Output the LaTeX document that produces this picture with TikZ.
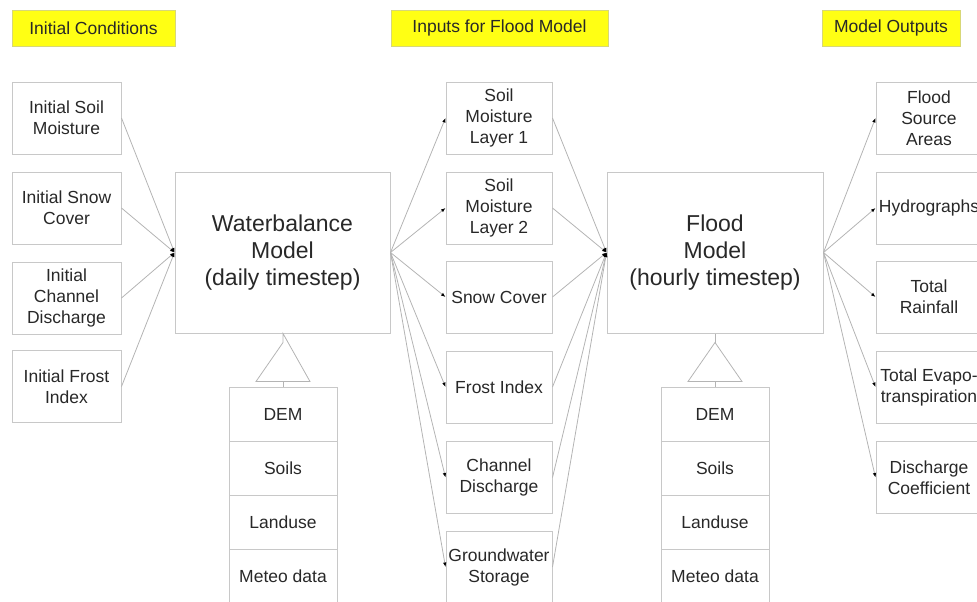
\documentclass[tikz,border=0pt]{standalone}
\usepackage{fontspec}
\setmainfont{Liberation Sans}
\usetikzlibrary{arrows.meta,calc}
\definecolor{boxline}{RGB}{200,200,200}
\definecolor{wire}{RGB}{180,180,180}
\definecolor{ink}{RGB}{40,40,40}
\definecolor{tagfill}{RGB}{255,255,20}
\definecolor{tagline}{RGB}{215,215,120}
\begin{document}
\begin{tikzpicture}[x=1pt,y=-1pt,
  txt/.style={font=\fontsize{17.5}{21}\selectfont, text=ink, align=center, inner sep=0pt},
  cell/.style={txt, draw=boxline, line width=1pt, minimum width=106pt, minimum height=72pt},
  leftcell/.style={cell, minimum width=109pt},
  model/.style={draw=boxline, line width=1pt, minimum width=215pt, minimum height=161pt,
    font=\fontsize{23}{27}\selectfont, text=ink, align=center, inner sep=0pt},
  datacell/.style={txt, draw=boxline, line width=1pt, minimum width=108pt, minimum height=54pt},
  tag/.style={txt, fill=tagfill, draw=tagline, line width=0.6pt, minimum height=36pt},
  wireline/.style={draw=wire, line width=0.8pt},
  conn/.style={wireline, -{Latex[length=4.5pt,width=3.5pt,color=black]}}
]
\useasboundingbox (0,0) rectangle (977,602);

% column headings
\node[tag, minimum width=163pt] (hIC) at (93.5,28) {Initial Conditions};
\node[tag, minimum width=217pt] (hIN) at (499.5,28) {Inputs for Flood Model};
\node[tag, minimum width=138pt] (hOUT) at (891,28) {Model Outputs};

% initial conditions
\node[leftcell] (ism) at (66.5,118) {Initial Soil\\Moisture};
\node[leftcell] (isc) at (66.5,208) {Initial Snow\\Cover};
\node[leftcell] (icd) at (66.5,298) {Initial\\Channel\\Discharge};
\node[leftcell] (ifi) at (66.5,386.5) {Initial Frost\\Index};

% models
\node[model] (wb) at (282.5,252.5) {Waterbalance\\Model\\(daily timestep)};
\node[model, minimum width=216pt] (fm) at (715,252.5) {Flood\\Model\\(hourly timestep)};

% inputs for the flood model
\node[cell] (sm1) at (499,118) {Soil\\Moisture\\Layer 1};
\node[cell] (sm2) at (499,208) {Soil\\Moisture\\Layer 2};
\node[cell] (snow) at (499,297) {Snow Cover};
\node[cell] (frost) at (499,387) {Frost Index};
\node[cell] (chan) at (499,477.5) {Channel\\Discharge};
\node[cell] (gw) at (499,567) {Groundwater\\Storage};

% model outputs
\node[cell] (fsa) at (929,118) {Flood\\Source\\Areas};
\node[cell] (hyd) at (929,208) {Hydrographs};
\node[cell] (rain) at (929,297) {Total\\Rainfall};
\node[cell] (evap) at (929,387) {Total Evapo-\\transpiration};
\node[cell] (dc) at (929,477.5) {Discharge\\Coefficient};

% static data under the waterbalance model
\node[datacell] (demA) at (283,414) {DEM};
\node[datacell] (soilA) at (283,468) {Soils};
\node[datacell] (landA) at (283,522) {Landuse};
\node[datacell] (meteoA) at (283,576) {Meteo data};

% static data under the flood model
\node[datacell] (demB) at (715,414) {DEM};
\node[datacell] (soilB) at (715,468) {Soils};
\node[datacell] (landB) at (715,522) {Landuse};
\node[datacell] (meteoB) at (715,576) {Meteo data};

% aggregation triangles
\coordinate (apexA) at ($(wb.south)+(0.5,9)$);
\coordinate (apexB) at ($(fm.south)+(0,9)$);
\draw[wireline] (wb.south -| apexA) -- (apexA) -- ++(-27,39) -- ++(54,0) -- cycle;
\draw[wireline] ($(apexA)+(0,39)$) -- (demA.north);
\draw[wireline] (apexB) -- ++(-27,39) -- ++(54,0) -- cycle;
\draw[wireline] (fm.south) -- (apexB);
\draw[wireline] ($(apexB)+(0,39)$) -- (demB.north);

% initial conditions into the waterbalance model
\foreach \n in {ism,isc,icd,ifi}
  \draw[conn] (\n.east) -- (wb.west);

% waterbalance model produces the flood model inputs
\foreach \n in {sm1,sm2,snow,frost,chan,gw}
  \draw[conn] (wb.east) -- (\n.west);

% inputs into the flood model
\foreach \n in {sm1,sm2,snow,frost,chan,gw}
  \draw[conn] (\n.east) -- (fm.west);

% flood model outputs
\foreach \n in {fsa,hyd,rain,evap,dc}
  \draw[conn] (fm.east) -- (\n.west);
\end{tikzpicture}
\end{document}
